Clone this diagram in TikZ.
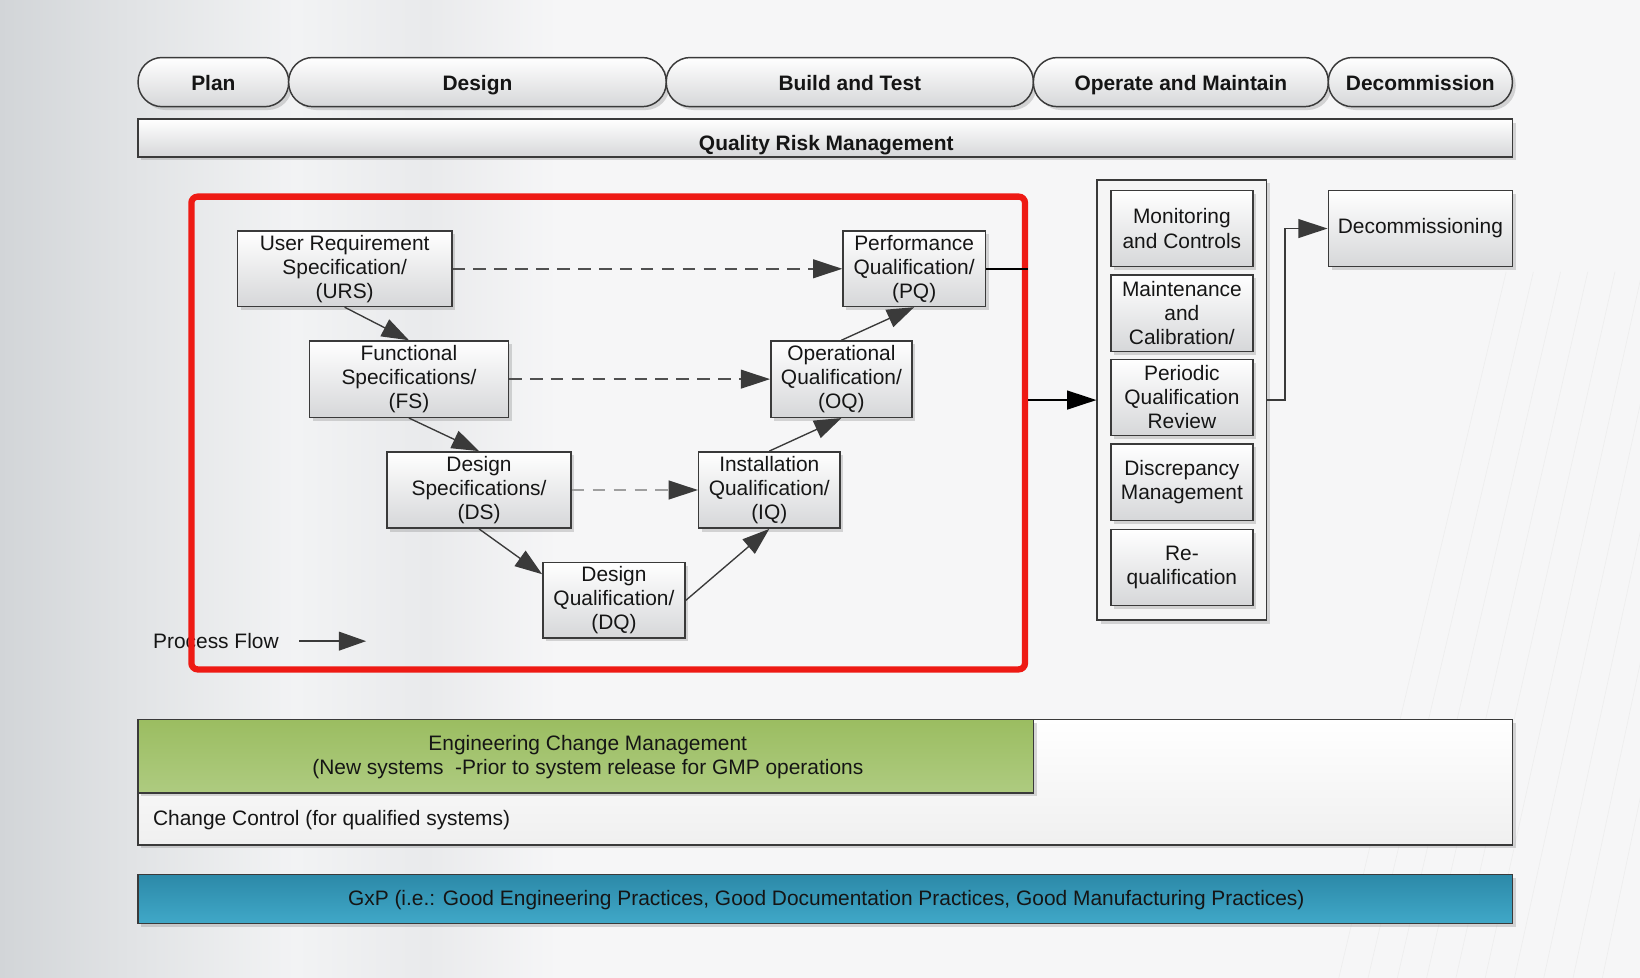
\documentclass[tikz,border=0pt]{standalone}
\usepackage{fontspec}
\setmainfont{Liberation Sans}
\usetikzlibrary{arrows.meta,shadows,calc}
\definecolor{edge}{HTML}{3A3A3A}
\definecolor{txt}{HTML}{151515}
\definecolor{boxbot}{HTML}{D6D7D9}
\definecolor{bgA}{HTML}{D2D5D8}
\definecolor{bgB}{HTML}{E1E3E5}
\definecolor{bgC}{HTML}{F2F3F4}
\definecolor{bgD}{HTML}{E9EAEC}
\definecolor{bgE}{HTML}{F6F6F7}
\definecolor{redline}{HTML}{EE1A14}
\definecolor{greenA}{HTML}{9BBD61}
\definecolor{greenB}{HTML}{AECB80}
\definecolor{blueA}{HTML}{2C89A8}
\definecolor{blueB}{HTML}{40A8C8}
\definecolor{dashcol}{HTML}{505050}
\pgfdeclarehorizontalshading{bgsh}{100bp}{color(0bp)=(bgA); color(25bp)=(bgA); color(29bp)=(bgB); color(34bp)=(bgC); color(38bp)=(bgD); color(42bp)=(bgE); color(75bp)=(bgE); color(100bp)=(bgE)}
\newcommand\boxfont{\fontsize{10}{11.5}\selectfont}
\newcommand\pillfont{\fontsize{10}{12}\selectfont\bfseries}
\begin{document}
\begin{tikzpicture}[x=0.5pt,y=-0.5pt,
  shadowed/.style={drop shadow={shadow xshift=1.6pt,shadow yshift=-1.6pt,opacity=0.3}},
  vbox/.style={draw=edge,line width=0.7pt,top color=white,bottom color=boxbot,shadowed,
     align=center,font=\boxfont,text=txt,inner sep=0pt},
  pill/.style={draw=edge,line width=0.7pt,top color=white,bottom color=boxbot,shadowed,
     rounded corners=11.5pt,minimum height=23.5pt,font=\pillfont,text=txt,inner sep=0pt,
     text height=8.7pt,text depth=0.2pt},
  varr/.style={draw=edge,line width=0.65pt,-{Triangle[length=13pt,width=9pt]},color=edge},
  darr/.style={draw=dashcol,line width=0.75pt,dash pattern=on 6pt off 4pt,-{Triangle[length=14pt,width=9pt,color=edge]}},
  barr/.style={draw=black,line width=0.8pt,-{Triangle[length=14pt,width=9pt]}}
]
\useasboundingbox (0,0) rectangle (1568,935);
% background
\fill[shading=bgsh] (0,0) rectangle (1568,935);
\foreach \i in {0,...,9}{
  \draw[gray!20,line width=0.3pt,opacity=0.5] ({1280+\i*28},935) -- ({1440+\i*26},260);
}

% phase pills
\node[pill,minimum width=72pt]   (plan)   at (204,78.5)    {Plan};
\node[pill,minimum width=180.5pt](design) at (456.5,78.5)  {Design};
\node[pill,minimum width=175.5pt](build)  at (812.5,78.5)  {Build and Test};
\node[pill,minimum width=141pt]  (opm)    at (1129,78.5)   {Operate and Maintain};
\node[pill,minimum width=88pt]   (decph)  at (1358,78.5)   {Decommission};

% quality risk management
\node[vbox,minimum width=657pt,minimum height=18pt] (qrm) at (789,132) {};
\node[font=\pillfont,text=txt] (qrmt) at (790,139) {Quality Risk Management};

% V-model boxes
\node[vbox,minimum width=102.5pt,minimum height=36pt]  (urs) at (329.5,257)  {User Requirement\\Specification/\\(URS)};
\node[vbox,minimum width=95pt,minimum height=36.5pt]   (fs)  at (391,362.5)  {Functional\\Specifications/\\(FS)};
\node[vbox,minimum width=88pt,minimum height=36.5pt]   (ds)  at (458,468.5)  {Design\\Specifications/\\(DS)};
\node[vbox,minimum width=68pt,minimum height=36pt]     (dq)  at (587,574)    {Design\\Qualification/\\(DQ)};
\node[vbox,minimum width=67.5pt,minimum height=36.5pt] (iq)  at (735.5,468.5){Installation\\Qualification/\\(IQ)};
\node[vbox,minimum width=67.5pt,minimum height=36.5pt] (oq)  at (804.5,362.5){Operational\\Qualification/\\(OQ)};
\node[vbox,minimum width=68pt,minimum height=36pt]     (pq)  at (874,257)    {Performance\\Qualification/\\(PQ)};

% V connectors
\draw[varr] (urs.south) -- (fs.north);
\draw[varr] (fs.south) -- (ds.north);
\draw[varr] (ds.south) -- (dq.160);
\draw[varr] (dq.east) -- (iq.south);
\draw[varr] (iq.north) -- (oq.south);
\draw[varr] (oq.north) -- (pq.south);

\draw[darr] (urs.east) -- (pq.west);
\draw[darr] (fs.east) -- (oq.west);
\draw[darr,draw=gray!75] (ds.east) -- (iq.west);

% process flow legend
\node[anchor=west,font=\boxfont,text=txt,inner sep=0pt] (pf) at (146,613) {Process Flow};
\coordinate (pfa) at (286,613);
\coordinate (pfb) at (350,613);
\draw[varr] (pfa) -- (pfb);

% red frame
\node[draw=redline,line width=3pt,rounded corners=3pt,minimum width=398.5pt,minimum height=226pt,inner sep=0pt] (red) at (581.5,414) {};

\draw[draw=black,line width=0.8pt] (pq.east) -- (pq.east -| red.east);

% operate container
\node[draw=edge,line width=0.7pt,fill=white!92!gray,shadowed,minimum width=81pt,minimum height=210.5pt,inner sep=0pt] (cont) at (1130,382.5) {};
\node[vbox,minimum width=68pt,minimum height=36.5pt] (mon) at (1130,218.5) {Monitoring\\and Controls};
\node[vbox,minimum width=68pt,minimum height=36.5pt] (mai) at (1130,299.5) {Maintenance\\and\\Calibration/};
\node[vbox,minimum width=68pt,minimum height=36.5pt] (pqr) at (1130,380)   {Periodic\\Qualification\\Review};
\node[vbox,minimum width=68pt,minimum height=36.5pt] (dis) at (1130,461)   {Discrepancy\\Management};
\node[vbox,minimum width=68pt,minimum height=36.5pt] (req) at (1130,542.5) {Re-\\qualification};

\node[vbox,minimum width=88pt,minimum height=36.5pt] (decom) at (1358,218.5) {Decommissioning};

\draw[barr] (red.east |- cont.west) -- (cont.west);
\draw[barr,draw=edge,line width=0.7pt] (cont.east) -- ++(17,0) |- (decom.west);

% change control
\node[draw=edge,line width=0.7pt,top color=white,bottom color=white!88!gray,shadowed,minimum width=657pt,minimum height=60pt,inner sep=0pt] (cc) at (789,748) {};
\node[draw=edge,line width=0.7pt,top color=greenA,bottom color=greenB,shadowed,minimum width=428pt,minimum height=35pt,inner sep=0pt] (ecm) at (560,723) {};
\node[font=\boxfont,text=txt,align=center] (ecmt) at (562,723.5) {Engineering Change Management\\(New systems\ \ -Prior to system release for GMP operations};
\node[anchor=west,font=\boxfont,text=txt,inner sep=0pt] (cct) at (146,784) {Change Control (for qualified systems)};

% GxP
\node[draw=edge,line width=0.7pt,top color=blueA,bottom color=blueB,shadowed,minimum width=657pt,minimum height=23.5pt,inner sep=0pt] (gxp) at (789,859.5) {};
\node[font=\boxfont,text=txt] (gxpt) at (790,861) {GxP (i.e.: Good Engineering Practices, Good Documentation Practices, Good Manufacturing Practices)};
\end{tikzpicture}
\end{document}
